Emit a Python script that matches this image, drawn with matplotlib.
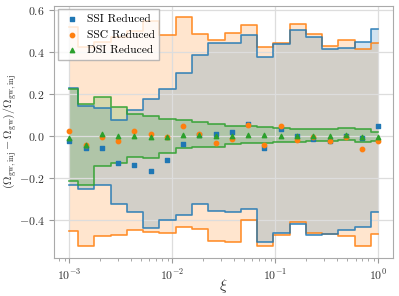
import numpy as np
import matplotlib
matplotlib.use("Agg")
from matplotlib import pyplot as plt

plt.rcParams['font.family'] = 'serif'
plt.rcParams['font.serif'] = ['cmr10', 'DejaVu Serif']
plt.rcParams['mathtext.fontset'] = 'cm'
plt.rcParams['axes.formatter.use_mathtext'] = True
plt.rcParams['font.size'] = 9

# xi grid (20 log-spaced bins)
xi = [0.001, 0.00144, 0.00207, 0.00298, 0.00428, 0.00616, 0.00886, 0.0127, 0.0183, 0.0264,
      0.0379, 0.0546, 0.0785, 0.113, 0.162, 0.234, 0.336, 0.483, 0.695, 1.0]

# SSI band + reduced points
ssi_hi = [0.228, 0.145, 0.133, 0.075, 0.124, 0.178, 0.223, 0.302, 0.387, 0.442,
          0.446, 0.482, 0.376, 0.439, 0.506, 0.471, 0.414, 0.418, 0.450, 0.509]
ssi_lo = [-0.236, -0.253, -0.234, -0.322, -0.361, -0.441, -0.401, -0.377, -0.323, -0.356,
          -0.364, -0.350, -0.506, -0.461, -0.420, -0.474, -0.466, -0.449, -0.433, -0.363]
ssi_pt = [-0.022, -0.057, -0.059, -0.130, -0.137, -0.168, -0.115, -0.038, 0.005, 0.010,
          0.019, 0.056, -0.057, 0.033, -0.002, -0.014, -0.022, -0.002, -0.010, 0.049]

# SSC band + reduced points
ssc_hi = [0.520, 0.426, 0.450, 0.470, 0.500, 0.550, 0.483, 0.567, 0.488, 0.456,
          0.490, 0.530, 0.423, 0.442, 0.533, 0.485, 0.431, 0.458, 0.414, 0.446]
ssc_lo = [-0.452, -0.523, -0.477, -0.473, -0.449, -0.457, -0.461, -0.433, -0.444, -0.500,
          -0.507, -0.401, -0.523, -0.473, -0.409, -0.464, -0.469, -0.476, -0.525, -0.469]
ssc_pt = [0.022, -0.045, -0.006, -0.022, 0.025, 0.010, -0.006, 0.046, 0.010, -0.035,
          -0.013, 0.054, -0.043, 0.049, -0.020, -0.003, -0.025, -0.003, -0.061, -0.025]

# DSI band + reduced points
dsi_hi = [0.226, 0.152, 0.188, 0.138, 0.105, 0.094, 0.083, 0.078, 0.067, 0.057,
          0.048, 0.046, 0.043, 0.037, 0.033, 0.032, 0.033, 0.040, 0.033, 0.021]
dsi_lo = [-0.213, -0.234, -0.142, -0.130, -0.102, -0.105, -0.083, -0.059, -0.054, -0.051,
          -0.040, -0.035, -0.032, -0.030, -0.028, -0.025, -0.022, -0.019, -0.027, -0.022]
dsi_pt = [-0.010, -0.043, 0.010, 0.002, -0.002, -0.006, -0.006, 0.006, 0.006, -0.002,
          0.002, 0.006, 0.003, -0.002, 0.002, 0.000, 0.002, 0.006, -0.003, -0.006]

fig = plt.figure(figsize=(3.99, 2.96), dpi=100)
ax = fig.add_axes([0.136, 0.129, 0.85, 0.852])

bands = [(ssc_lo, ssc_hi, 'C1'), (ssi_lo, ssi_hi, 'C0'), (dsi_lo, dsi_hi, 'C2')]
for lo, hi, c in bands:
    ax.fill_between(xi, lo, hi, step='mid', color=c, alpha=0.2, lw=0)
    ax.step(xi, hi, where='mid', color=c, lw=1.2, alpha=0.85)
    ax.step(xi, lo, where='mid', color=c, lw=1.2, alpha=0.85)

ax.scatter(xi, ssi_pt, marker='s', s=10, color='C0', label='SSI Reduced', zorder=5)
ax.scatter(xi, ssc_pt, marker='o', s=10, color='C1', label='SSC Reduced', zorder=5)
ax.scatter(xi, dsi_pt, marker='^', s=10, color='C2', label='DSI Reduced', zorder=5)

ax.set_xscale('log')
ax.set_xlim(7.15e-4, 1.40)
ax.set_ylim(-0.581, 0.622)
ax.set_yticks([-0.4, -0.2, 0.0, 0.2, 0.4, 0.6])
ax.grid(True, color='#dddddd', lw=0.9)
for s in ax.spines.values():
    s.set_color('#aaaaaa')
ax.tick_params(which='both', color='#999999', labelcolor='#333333', labelsize=8.5)

ax.set_xlabel(r'$\xi$', fontsize=11, color='#333333')
ax.xaxis.set_label_coords(0.5, -0.075)
ax.set_ylabel(r'$(\Omega_{\rm gw,inj}-\Omega_{\rm gw})/\Omega_{\rm gw,inj}$',
              fontsize=8.5, color='#333333')
ax.yaxis.set_label_coords(-0.107, 0.5)

leg = ax.legend(loc='upper left', fontsize=8.3, borderaxespad=0.3, handletextpad=0.5,
                handlelength=1.6, fancybox=False, edgecolor='#aaaaaa')

fig.savefig('out.png', dpi=100)
